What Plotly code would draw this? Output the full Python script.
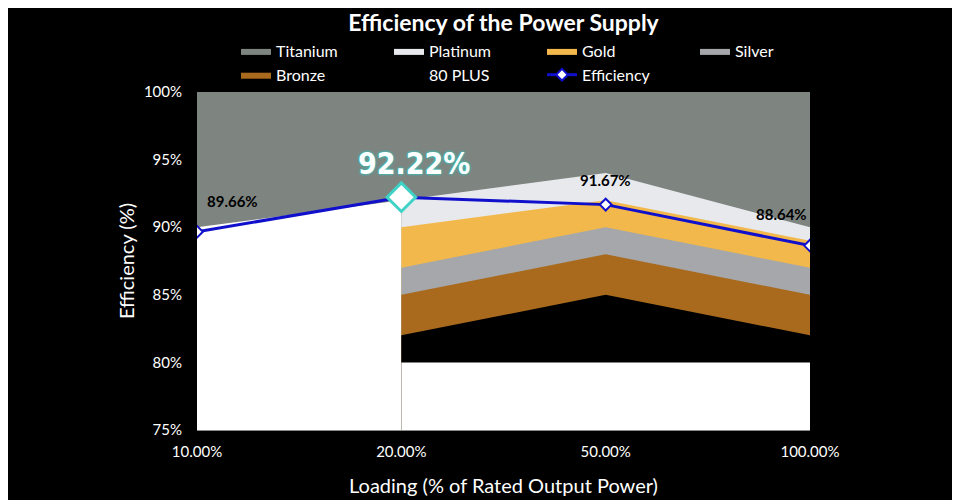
import plotly.graph_objects as go

# ---- data ----
categories = ["10.00%", "20.00%", "50.00%", "100.00%"]
efficiency = [89.66, 92.22, 91.67, 88.64]
# 80 PLUS requirement thresholds per load level (None = no requirement)
req_80plus = [None, 80, 80, 80]
req_bronze = [None, 82, 85, 82]
req_silver = [None, 85, 88, 85]
req_gold = [None, 87, 90, 87]
req_platinum = [None, 90, 92, 89]
req_titanium = [90, 92, 94, 90]
y_ticks = [75, 80, 85, 90, 95, 100]
y_tick_labels = [f"{v}%" for v in y_ticks]
highlight_index = 1

FONT = "Lato, 'Open Sans', sans-serif"
y_min, y_max = y_ticks[0], y_ticks[-1]

fig = go.Figure()


def band(name, xs, ys, color, show=True):
    fig.add_trace(go.Scatter(
        x=xs, y=ys, name=name, mode="lines", fill="tozeroy",
        fillcolor=color, line=dict(width=0, color=color),
        showlegend=show, hoverinfo="skip"))


tiered = [i for i, v in enumerate(req_platinum) if v is not None]
left = [i for i, v in enumerate(req_platinum) if v is None] + tiered[:1]


def pick(arr, idx):
    return [arr[i] for i in idx]


cx = pick(categories, tiered)
band("Titanium", categories, [y_max] * len(categories), "#7e8580")
band("left", pick(categories, left), pick(req_titanium, left), "#ffffff", show=False)
band("Platinum", cx, pick(req_titanium, tiered), "#e8e9ed")
band("Gold", cx, pick(req_platinum, tiered), "#f2b84b")
band("Silver", cx, pick(req_gold, tiered), "#a5a7aa")
band("Bronze", cx, pick(req_silver, tiered), "#a96a1e")
band("80 PLUS", cx, pick(req_bronze, tiered), "#000000")
band("base", cx, pick(req_80plus, tiered), "#ffffff", show=False)

fig.add_trace(go.Scatter(
    x=categories, y=efficiency, name="Efficiency", mode="lines+markers",
    line=dict(color="#1010cc", width=3),
    marker=dict(symbol="diamond", size=9, color="#ffffff",
                line=dict(color="#1010cc", width=2)),
    hoverinfo="skip"))

# highlighted point
fig.add_trace(go.Scatter(
    x=[categories[highlight_index]], y=[efficiency[highlight_index]],
    mode="markers", showlegend=False, hoverinfo="skip",
    marker=dict(symbol="diamond", size=22, color="#ffffff",
                line=dict(color="#3fd3c8", width=3))))

# data labels
shifts = [(35, 31), (13, 34), (0, 25), (-29, 32)]
for i, (cat, v) in enumerate(zip(categories, efficiency)):
    big = i == highlight_index
    fig.add_annotation(
        x=cat, y=v, text=f"{v:.2f}%", showarrow=False,
        xshift=shifts[i][0], yshift=shifts[i][1],
        font=dict(family="'DejaVu Sans Condensed', 'DejaVu Sans', sans-serif" if big else FONT,
                  size=30 if big else 15,
                  color="#ffffff" if big else "#000000",
                  weight="bold",
                  shadow="0 0 3px #2fc8c0, 0 0 2px #2fc8c0" if big else "none"))

fig.update_layout(
    width=960, height=500,
    paper_bgcolor="#000000", plot_bgcolor="#000000",
    margin=dict(l=189, r=158, t=84, b=78),
    font=dict(family=FONT, color="#ffffff", size=15),
    title=dict(text="<b>Efficiency of the Power Supply</b>", x=0.5, xref="paper",
               xanchor="center", y=0.97, yanchor="middle",
               font=dict(size=23, color="#ffffff")),
    legend=dict(orientation="h", x=0.0636, xanchor="left", y=1.0, yanchor="bottom",
                entrywidth=108, entrywidthmode="pixels", bgcolor="rgba(0,0,0,0)",
                font=dict(size=16, color="#ffffff"), traceorder="normal",
                itemclick=False),
    xaxis=dict(type="category", categoryorder="array", categoryarray=categories,
               range=[0, len(categories) - 1], showgrid=False, zeroline=False,
               showline=True, linecolor="#8a8a8a", linewidth=1, ticks="",
               tickfont=dict(size=15), ticklabelstandoff=8, automargin=False,
               title=dict(text="Loading (% of Rated Output Power)", font=dict(size=20), standoff=19)),
    yaxis=dict(range=[y_min, y_max], tickmode="array", tickvals=y_ticks, ticktext=y_tick_labels,
               showgrid=False, zeroline=False, ticks="", automargin=False,
               tickfont=dict(size=15), ticklabelstandoff=14,
               title=dict(text="Efficiency (%)", font=dict(size=20), standoff=3)),
)

fig.write_html("out.html")
